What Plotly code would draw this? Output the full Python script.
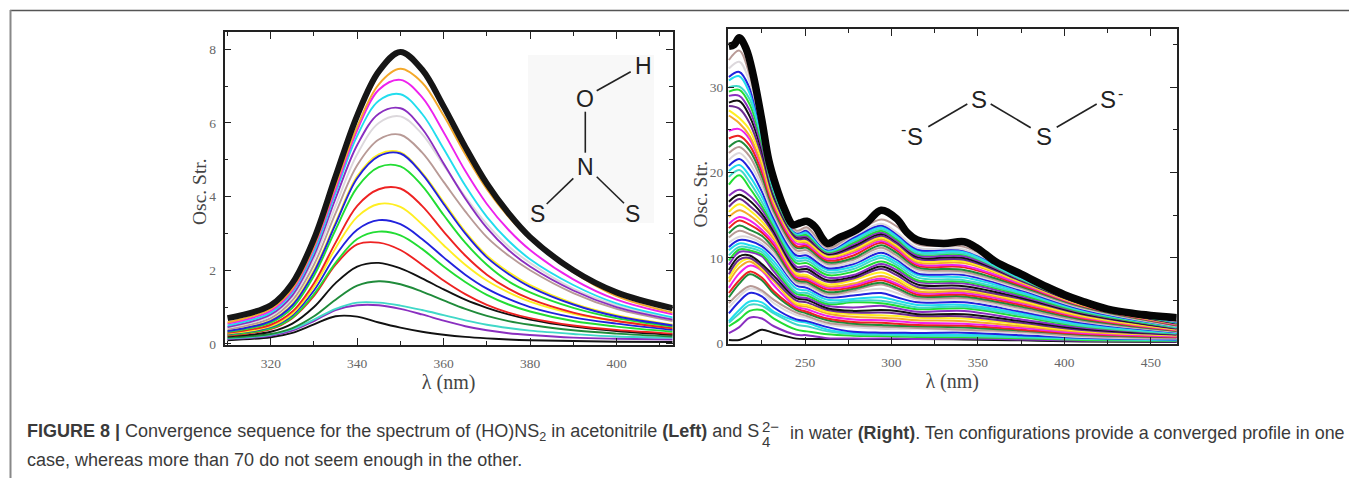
import plotly.graph_objects as go

W, H = 1349, 478

# ---------- left panel data ----------
left_x = [310, 320, 325, 330, 335, 340, 345, 350, 355, 360, 365, 370, 375, 380, 390, 400, 413]
l01 = [.10, .18, .30, .53, .75, .74, .58, .44, .33, .25, .19, .15, .12, .10, .08, .06, .05]
l02 = [.13, .22, .36, .62, .92, 1.05, 1.05, .95, .80, .63, .48, .37, .29, .24, .17, .14, .12]
l03 = [.15, .25, .40, .66, .95, 1.12, 1.12, 1.04, .92, .78, .64, .52, .43, .36, .27, .20, .17]
l04 = [.17, .27, .43, .75, 1.20, 1.58, 1.70, 1.62, 1.42, 1.18, .95, .76, .62, .52, .37, .28, .20]
l05 = [.20, .33, .55, 1.00, 1.65, 2.10, 2.20, 2.05, 1.78, 1.48, 1.20, .98, .80, .66, .47, .35, .25]
l06 = [.23, .40, .70, 1.30, 2.15, 2.70, 2.75, 2.55, 2.15, 1.72, 1.35, 1.06, .85, .70, .50, .38, .28]
l07 = [.25, .42, .72, 1.35, 2.20, 2.85, 3.05, 2.95, 2.58, 2.10, 1.68, 1.33, 1.07, .88, .62, .47, .33]
l08 = [.27, .46, .78, 1.45, 2.40, 3.10, 3.36, 3.25, 2.85, 2.35, 1.88, 1.50, 1.22, 1.00, .72, .55, .38]
l09 = [.28, .48, .82, 1.55, 2.60, 3.45, 3.80, 3.72, 3.25, 2.68, 2.15, 1.72, 1.40, 1.15, .82, .62, .44]
l10 = [.30, .52, .88, 1.65, 2.75, 3.75, 4.20, 4.22, 3.75, 3.05, 2.40, 1.88, 1.50, 1.22, .85, .62, .42]
l11 = [.33, .58, .98, 1.85, 3.10, 4.25, 4.80, 4.82, 4.30, 3.50, 2.75, 2.15, 1.70, 1.40, .98, .70, .47]
l12 = [.36, .64, 1.08, 2.00, 3.30, 4.55, 5.15, 5.20, 4.65, 3.85, 3.05, 2.40, 1.95, 1.60, 1.10, .78, .52]
l13 = [.35, .62, 1.05, 1.95, 3.25, 4.50, 5.10, 5.17, 4.62, 3.80, 3.00, 2.35, 1.90, 1.55, 1.07, .75, .50]
l14 = [.40, .70, 1.18, 2.15, 3.55, 4.85, 5.55, 5.68, 5.20, 4.40, 3.60, 2.90, 2.40, 2.00, 1.38, .95, .62]
l15 = [.44, .76, 1.27, 2.30, 3.75, 5.15, 6.00, 6.18, 5.70, 4.85, 4.00, 3.25, 2.65, 2.20, 1.50, 1.05, .68]
l16 = [.46, .80, 1.32, 2.40, 3.95, 5.40, 6.25, 6.40, 5.85, 4.90, 3.95, 3.15, 2.55, 2.10, 1.45, 1.00, .66]
l17 = [.50, .85, 1.40, 2.50, 4.10, 5.65, 6.60, 6.78, 6.25, 5.30, 4.30, 3.45, 2.80, 2.30, 1.60, 1.10, .72]
l18 = [.55, .90, 1.45, 2.60, 4.20, 5.80, 6.90, 7.17, 6.70, 5.75, 4.70, 3.80, 3.10, 2.55, 1.75, 1.20, .80]
l19 = [.58, .95, 1.50, 2.65, 4.30, 5.90, 7.05, 7.47, 7.10, 6.20, 5.15, 4.20, 3.45, 2.85, 1.95, 1.30, .85]
l_top = [.70, 1.05, 1.65, 2.85, 4.55, 6.20, 7.40, 7.93, 7.45, 6.45, 5.35, 4.35, 3.55, 2.90, 2.00, 1.40, .97]
left_curves = [l01, l02, l03, l04, l05, l06, l07, l08, l09, l10, l11, l12, l13, l14, l15, l16, l17, l18, l19]
left_colors = ["#111111", "#8a2fc0", "#40d8c8", "#1f8b3a", "#111111", "#ee2222", "#22dd33", "#2222dd",
               "#ffee22", "#ee2222", "#22dd33", "#ffee22", "#2222dd", "#b89a96", "#dcd8dc", "#8a2fc0",
               "#22ddee", "#ee22ee", "#f4a92a"]

# ---------- right panel data ----------
right_x = [206, 212, 218, 225, 232, 245, 251, 263, 278, 294, 303, 315, 342, 375, 410, 465]
r01 = [.4, .4, .9, 1.6, 1.2, .55, .5, .5, .5, .5, .5, .5, .45, .35, .22, .15]
r02 = [1.2, 1.9, 3.0, 2.9, 2.0, 1.0, .95, .6, .55, .55, .55, .5, .55, .45, .3, .2]
r03 = [2.0, 2.8, 3.8, 3.9, 2.9, 1.6, 1.4, 1.05, .9, .85, .8, .75, .7, .6, .4, .3]
r04 = [2.4, 3.5, 4.5, 4.4, 3.5, 2.2, 2.0, 1.4, 1.05, 1.0, .95, .9, .85, .7, .5, .35]
r05 = [2.6, 3.9, 4.9, 4.8, 3.7, 2.6, 2.4, 1.6, 1.2, 1.15, 1.1, 1.05, 1.0, .85, .6, .4]
r06 = [3.5, 4.9, 5.9, 5.5, 4.2, 2.8, 2.6, 1.9, 1.35, 1.25, 1.25, 1.2, 1.25, .95, .65, .45]
r07 = [4.2, 5.5, 6.4, 6.0, 4.7, 3.3, 3.0, 2.2, 1.9, 1.7, 1.7, 1.7, 1.5, 1.2, .75, .55]
r08 = [4.7, 5.9, 6.7, 6.2, 5.1, 3.6, 3.2, 2.4, 2.1, 1.95, 1.9, 1.8, 1.6, 1.35, .85, .6]
r09 = [5.4, 7.0, 8.1, 7.4, 5.8, 3.9, 3.5, 2.7, 2.3, 2.15, 2.05, 2.0, 1.85, 1.5, 1.0, .7]
r10 = [5.9, 7.4, 8.4, 7.7, 6.1, 4.1, 3.7, 2.9, 2.5, 2.4, 2.3, 2.15, 2.05, 1.6, 1.1, .75]
r11 = [6.5, 8.2, 9.1, 8.5, 6.8, 4.3, 4.0, 3.2, 2.8, 2.7, 2.6, 2.4, 2.3, 1.8, 1.2, .8]
r12 = [7.2, 8.9, 9.6, 8.6, 7.3, 4.5, 4.3, 3.5, 3.1, 3.0, 2.9, 2.7, 2.6, 2.0, 1.35, .9]
r13 = [7.6, 9.4, 9.9, 8.8, 7.4, 4.7, 4.5, 3.7, 3.4, 3.3, 3.2, 3.0, 2.9, 2.2, 1.45, .95]
r14 = [8.1, 9.8, 10.0, 9.0, 7.5, 5.0, 4.8, 3.9, 3.6, 3.6, 3.5, 3.2, 3.15, 2.4, 1.55, 1.0]
r15 = [8.6, 10.2, 10.3, 9.3, 7.9, 5.3, 5.1, 4.1, 3.8, 3.9, 3.8, 3.4, 3.4, 2.6, 1.7, 1.05]
r16 = [9.2, 10.7, 10.7, 10.2, 8.4, 5.5, 5.3, 4.4, 4.2, 4.4, 4.1, 3.7, 3.8, 2.8, 1.85, 1.1]
r17 = [9.7, 11.0, 10.9, 10.4, 8.8, 5.8, 5.6, 4.6, 4.8, 4.7, 4.4, 4.0, 4.1, 3.1, 2.0, 1.15]
r18 = [10.3, 11.3, 11.2, 10.7, 9.2, 6.0, 5.9, 4.8, 5.0, 5.0, 4.7, 4.2, 4.3, 3.3, 2.1, 1.2]
r19 = [10.9, 11.7, 11.5, 11.0, 9.6, 6.4, 6.2, 5.1, 5.2, 5.4, 5.0, 4.5, 4.5, 3.5, 2.25, 1.25]
r20 = [11.3, 12.1, 12.0, 11.4, 10.1, 6.8, 6.5, 5.4, 5.6, 5.9, 5.4, 4.8, 4.8, 3.7, 2.4, 1.3]
r21 = [11.8, 12.5, 12.4, 11.7, 10.4, 7.0, 6.8, 5.6, 6.0, 6.4, 5.9, 5.1, 5.1, 3.9, 2.55, 1.35]
r22 = [12.4, 13.2, 12.8, 12.1, 10.8, 7.2, 7.0, 5.8, 6.2, 6.9, 6.3, 5.3, 5.3, 4.1, 2.65, 1.4]
r23 = [12.9, 13.8, 13.3, 12.6, 11.1, 7.4, 7.2, 6.0, 6.4, 7.1, 6.5, 5.5, 5.5, 4.3, 2.8, 1.45]
r24 = [13.5, 14.4, 13.9, 13.0, 11.5, 7.6, 7.4, 6.3, 6.6, 7.4, 6.8, 5.7, 5.7, 4.5, 2.95, 1.5]
r25 = [14.0, 14.8, 14.4, 13.3, 11.8, 7.8, 7.6, 6.5, 6.8, 7.6, 7.0, 5.9, 5.9, 4.7, 3.05, 1.55]
r26 = [14.8, 15.6, 15.0, 13.8, 12.2, 8.0, 7.8, 6.7, 7.0, 7.9, 7.3, 6.1, 6.1, 4.85, 3.15, 1.6]
r27 = [15.4, 16.3, 15.6, 14.3, 12.5, 8.2, 8.0, 6.9, 7.4, 8.3, 7.6, 6.4, 6.3, 5.0, 3.25, 1.65]
r28 = [16.0, 16.9, 16.1, 14.8, 12.8, 8.5, 8.4, 7.2, 7.6, 8.7, 8.0, 6.6, 6.4, 5.2, 3.4, 1.7]
r29 = [16.6, 17.4, 16.7, 15.2, 13.1, 8.7, 8.7, 7.4, 7.8, 9.0, 8.3, 6.9, 6.7, 5.35, 3.5, 1.75]
r30 = [17.3, 18.0, 17.3, 15.7, 13.4, 9.0, 9.0, 7.7, 8.0, 9.3, 8.6, 7.2, 7.0, 5.5, 3.6, 1.8]
r31 = [18.6, 19.7, 18.2, 16.1, 13.7, 9.4, 9.4, 8.0, 8.4, 9.6, 8.9, 7.4, 7.2, 5.7, 3.7, 1.85]
r32 = [19.5, 20.3, 18.9, 16.6, 14.0, 9.7, 9.7, 8.3, 8.7, 10.0, 9.2, 7.7, 7.4, 5.85, 3.8, 1.9]
r33 = [20.2, 20.9, 19.6, 17.2, 14.3, 10.0, 10.0, 8.6, 9.0, 10.3, 9.5, 8.0, 7.7, 6.0, 3.9, 1.95]
r34 = [20.8, 21.6, 20.4, 17.8, 14.6, 10.3, 10.3, 8.8, 9.3, 10.6, 9.8, 8.2, 8.0, 6.2, 4.0, 2.0]
r35 = [21.5, 22.3, 21.1, 18.4, 15.0, 10.6, 10.6, 9.1, 9.5, 10.9, 10.0, 8.5, 8.2, 6.35, 4.1, 2.0]
r36 = [22.3, 23.0, 21.9, 19.0, 15.3, 10.9, 10.9, 9.3, 9.8, 11.2, 10.3, 8.7, 8.4, 6.5, 4.2, 2.05]
r37 = [23.0, 23.7, 22.6, 19.6, 15.6, 11.2, 11.2, 9.5, 10.0, 11.5, 10.6, 8.9, 8.6, 6.65, 4.3, 2.1]
r38 = [24.0, 24.3, 23.2, 20.1, 15.9, 11.4, 11.4, 9.7, 10.3, 11.8, 10.9, 9.1, 8.9, 6.8, 4.4, 2.15]
r39 = [24.9, 25.1, 23.9, 20.6, 16.2, 11.7, 11.6, 9.9, 10.6, 12.0, 11.1, 9.3, 9.1, 6.95, 4.45, 2.2]
r40 = [26.7, 25.8, 24.3, 20.9, 16.4, 12.0, 11.8, 10.1, 10.8, 12.2, 11.3, 9.5, 9.4, 7.1, 4.5, 2.25]
r41 = [27.3, 26.4, 25.0, 21.5, 16.7, 12.1, 12.0, 10.2, 11.0, 12.4, 11.5, 9.7, 9.6, 7.2, 4.55, 2.3]
r42 = [27.8, 27.5, 25.8, 22.0, 17.0, 12.3, 12.2, 10.4, 11.2, 12.6, 11.7, 9.9, 9.8, 7.3, 4.6, 2.3]
r43 = [28.2, 28.4, 26.6, 22.6, 17.3, 12.5, 12.4, 10.5, 11.4, 12.8, 11.9, 10.1, 10.0, 7.4, 4.65, 2.35]
r44 = [29.0, 29.0, 27.3, 23.0, 17.5, 12.6, 12.5, 10.6, 11.6, 13.0, 12.0, 10.3, 10.2, 7.45, 4.7, 2.4]
r45 = [29.5, 29.7, 28.0, 23.5, 17.7, 12.7, 12.7, 10.7, 11.8, 13.2, 12.2, 10.5, 10.4, 7.5, 4.75, 2.4]
r46 = [30.0, 30.1, 28.6, 23.9, 17.9, 12.8, 12.9, 10.8, 12.0, 13.4, 12.4, 10.6, 10.5, 7.55, 4.8, 2.45]
r47 = [30.8, 31.3, 29.3, 24.3, 18.0, 12.9, 13.0, 10.9, 12.2, 13.6, 12.6, 10.8, 10.7, 7.65, 4.85, 2.5]
r48 = [31.2, 31.8, 29.9, 24.7, 18.2, 13.0, 13.2, 11.0, 12.4, 13.8, 12.8, 11.0, 10.9, 7.75, 4.9, 2.5]
r49 = [32.2, 33.0, 30.6, 25.0, 18.4, 13.1, 13.4, 11.1, 12.6, 14.0, 13.0, 11.2, 11.0, 7.8, 4.9, 2.55]
r50 = [33.2, 34.3, 31.4, 25.4, 18.6, 13.2, 13.6, 11.2, 12.8, 14.5, 13.7, 11.6, 11.3, 7.9, 4.95, 2.6]
right_top_x = [206, 209, 212, 216, 220, 225, 229, 233, 238, 243, 247, 251, 256, 260, 263, 270, 278, 286, 294, 303,
               309, 315, 330, 342, 350, 360, 375, 390, 400, 410, 425, 440, 465]
r_top = [34.8, 35.0, 35.8, 34.5, 31.5, 26.2, 21.5, 18.6, 15.8, 13.9, 14.1, 14.3, 13.6, 12.3, 11.7, 12.4, 13.1, 14.2,
         15.6, 14.6, 13.0, 12.1, 11.7, 11.9, 11.1, 9.6, 8.1, 6.6, 5.7, 4.95, 4.0, 3.5, 3.0]
right_curves = [r01, r02, r03, r04, r05, r06, r07, r08, r09, r10, r11, r12, r13, r14, r15, r16, r17, r18, r19, r20,
                r21, r22, r23, r24, r25, r26, r27, r28, r29, r30, r31, r32, r33, r34, r35, r36, r37, r38, r39, r40,
                r41, r42, r43, r44, r45, r46, r47, r48, r49, r50]
right_palette = ["#111111", "#8a2fc0", "#22dd33", "#40d8c8", "#22ddee", "#2222dd", "#dcd8dc", "#b89a96",
                 "#1f8b3a", "#ee2222", "#ee22ee", "#f4a92a", "#ffee22", "#6a2a90"]

fig = go.Figure()
for ys, c in zip(left_curves, left_colors):
    fig.add_trace(go.Scatter(x=left_x, y=ys, mode="lines", line=dict(color=c, width=1.9, shape="spline"),
                             xaxis="x", yaxis="y", showlegend=False))
fig.add_trace(go.Scatter(x=left_x, y=l_top, mode="lines", line=dict(color="#161616", width=6, shape="spline"),
                         xaxis="x", yaxis="y", showlegend=False))
for i, ys in enumerate(right_curves):
    fig.add_trace(go.Scatter(x=right_x, y=ys, mode="lines",
                             line=dict(color=right_palette[i % len(right_palette)], width=2, shape="spline"),
                             xaxis="x2", yaxis="y2", showlegend=False))
fig.add_trace(go.Scatter(x=right_top_x, y=r_top, mode="lines", line=dict(color="#050505", width=7.5, shape="spline"),
                         xaxis="x2", yaxis="y2", showlegend=False))


def px(x):
    return x / W


def py(y):
    return 1 - y / H


TICKF = dict(family="Liberation Serif", size=13.5, color="#666666")
TITLEF = dict(family="Liberation Serif", size=20, color="#444444")


def axis(rng, dom, major, minor, title, anchor, labeloff):
    ax = dict(range=rng, domain=dom, dtick=major, tick0=0, ticks="inside", ticklen=7, tickwidth=1.4,
              tickcolor="#222222", mirror="allticks", showline=True, linecolor="#222222", linewidth=1.5,
              showgrid=False, zeroline=False, tickfont=TICKF, anchor=anchor, ticklabelstandoff=labeloff,
              minor=dict(dtick=minor, tick0=0, ticks="inside", ticklen=4, tickwidth=1.2, tickcolor="#222222",
                         showgrid=False))
    if title:
        ax["title"] = dict(text=title, font=TITLEF, standoff=0)
    return ax


layout = dict(
    width=W, height=H, margin=dict(l=0, r=0, t=0, b=0, autoexpand=False), paper_bgcolor="white",
    plot_bgcolor="white", showlegend=False,
    xaxis=axis([309.3, 413], [px(224.5), px(672.7)], 20, 10, "λ (nm)", "y", 5),
    yaxis=axis([-0.03, 8.47], [py(345), py(32)], 2, 1, None, "x", 4),
    xaxis2=axis([205.3, 464.9], [px(727.7), px(1176.7)], 50, 25, "λ (nm)", "y2", 5),
    yaxis2=axis([-0.08, 36.8], [py(344), py(29.3)], 10, 5, None, "x2", 0),
)
fig.update_layout(**layout)


def seg(x0, y0, x1, y1, color="#222222", width=1.6):
    return dict(type="line", xref="paper", yref="paper", x0=px(x0), y0=py(y0), x1=px(x1), y1=py(y1),
                line=dict(color=color, width=width))


shapes = [
    # page frame
    seg(10, 10.5, 1349, 10.5, "#555555", 1.6),
    seg(10.5, 10, 10.5, 478, "#888888", 2),
    # inset panel behind the left molecule
    dict(type="rect", xref="paper", yref="paper", x0=px(528), x1=px(654), y0=py(223), y1=py(55),
         fillcolor="#f8f8f8", line=dict(width=0), layer="below"),
    # left molecule bonds
    seg(596.7, 90.7, 630.7, 71.7), seg(585.3, 111.7, 585.3, 152.7),
    seg(573.3, 178.3, 546.7, 204), seg(596.7, 176.7, 624, 203.3),
    # right molecule bonds
    seg(928.3, 126.7, 967.3, 104), seg(990.7, 104, 1030.7, 127.7), seg(1056.7, 127.3, 1096.7, 104),
]
fig.update_layout(shapes=shapes)


def note(text, x, y, size=23, xanchor="center", family="Liberation Sans", color="#222222", **kw):
    return dict(text=text, x=px(x), y=py(y), xref="paper", yref="paper", xanchor=xanchor, yanchor="middle",
                showarrow=False, font=dict(family=family, size=size, color=color), align="left", **kw)


CAPC = "#3a3a3a"
notes = [
    note("Osc. Str.", 200, 192, 19.5, family="Liberation Serif", color="#444444", textangle=-90),
    note("Osc. Str.", 699.5, 194, 19.5, family="Liberation Serif", color="#444444", textangle=-90),
    note("H", 643.3, 65.7), note("O", 585.3, 99.3), note("N", 585.3, 166.7),
    note("S", 537.7, 214), note("S", 632.7, 214),
    note("S", 915, 136, 24), note("S", 979, 99, 24), note("S", 1043.7, 136, 24), note("S", 1108.3, 99, 24),
    note("-", 903, 129, 16), note("-", 1120, 93, 16),
    note("<b>FIGURE 8 |</b> Convergence sequence for the spectrum of (HO)NS<sub>2</sub> in acetonitrile "
         "<b>(Left)</b> and S", 25, 432.7, 18, "left", color=CAPC),
    note("4", 759.7, 441.7, 15, "left", color=CAPC),
    note("2−", 759.7, 426, 15, "left", color=CAPC),
    note("in water <b>(Right)</b>. Ten configurations provide a converged profile in one", 788, 432.7, 17.9,
         "left", color=CAPC),
    note("case, whereas more than 70 do not seem enough in the other.", 25, 460, 18, "left", color=CAPC),
]
fig.update_layout(annotations=notes)

fig.write_html("out.html", config=dict(displayModeBar=False),
               post_script="document.body.style.margin='0';document.documentElement.style.overflow='hidden';")
